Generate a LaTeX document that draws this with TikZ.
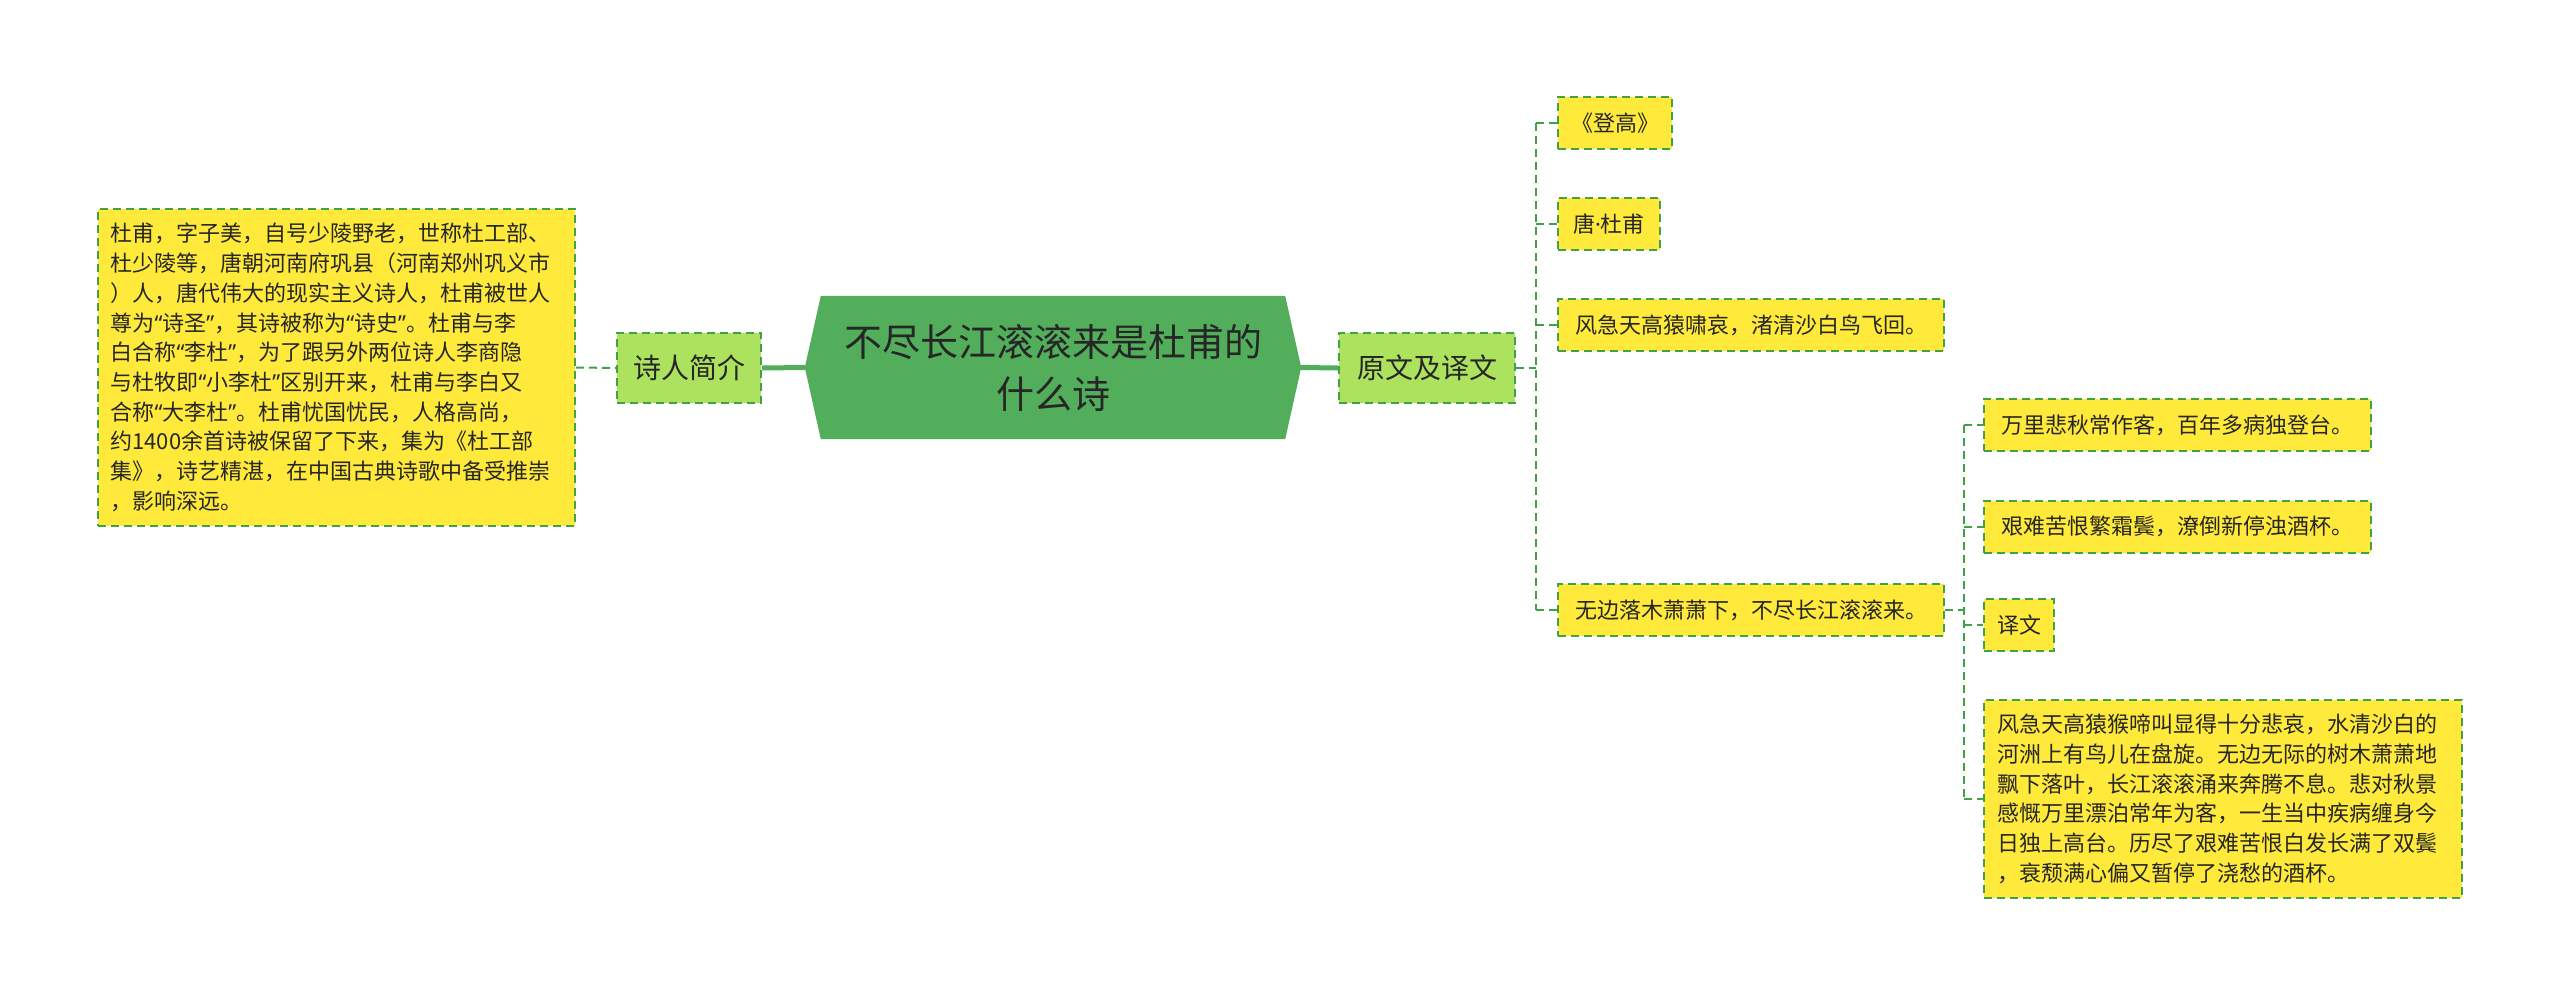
\documentclass[tikz,border=0pt]{standalone}
\usepackage{fontspec}
\setmainfont{Noto Sans CJK SC}
\newfontfamily\qf{Noto Sans}
\newcommand{\myLq}{{\qf “}}
\newcommand{\myRq}{{\qf ”}}
\usetikzlibrary{backgrounds}
\definecolor{yel}{HTML}{FFE93A}
\definecolor{dgreen}{HTML}{42A046}
\definecolor{hexg}{HTML}{53AE5C}
\definecolor{lgreen}{HTML}{ACE25E}
\definecolor{txt}{HTML}{262626}
\begin{document}
\begin{tikzpicture}[x=1pt,y=-1pt,
  box/.style={draw=dgreen, fill=yel, line width=2pt, dash pattern=on 8pt off 5pt, inner sep=0pt, text=txt, align=left, font=\fontsize{22}{29.7}\selectfont, minimum height=52pt},
  mid/.style={draw=dgreen, fill=lgreen, line width=2pt, dash pattern=on 8pt off 5pt, inner sep=0pt, text=txt, font=\fontsize{28}{34}\selectfont, minimum height=70pt},
  conn/.style={draw=dgreen, line width=2pt, dash pattern=on 8pt off 5pt},
  mainconn/.style={draw=hexg, line width=5pt},
  titlestyle/.style={inner sep=0pt, minimum width=496pt, minimum height=143pt, align=center, text=txt, font=\fontsize{38}{52}\selectfont}
]
\useasboundingbox (0,0) rectangle (2560,996);
\node[titlestyle] (c) at (1053,367.5) {不尽长江滚滚来是杜甫的\\什么诗};
\begin{pgfonlayer}{background}
\fill[white] (0,0) rectangle (2560,996);
\fill[hexg] (c.west) -- ([xshift=16pt]c.north west) -- ([xshift=-16pt]c.north east) -- (c.east) -- ([xshift=-16pt]c.south east) -- ([xshift=16pt]c.south west) -- cycle;
\end{pgfonlayer}
\node[box, text width=452pt, minimum width=477pt, minimum height=317pt] (bio) at (336.5,367.5) {杜甫，字子美，自号少陵野老，世称杜工部、\\杜少陵等，唐朝河南府巩县（河南郑州巩义市\\）人，唐代伟大的现实主义诗人，杜甫被世人\\尊为\myLq 诗圣\myRq ，其诗被称为\myLq 诗史\myRq 。杜甫与李\\白合称\myLq 李杜\myRq ，为了跟另外两位诗人李商隐\\与杜牧即\myLq 小李杜\myRq 区别开来，杜甫与李白又\\合称\myLq 大李杜\myRq 。杜甫忧国忧民，人格高尚，\\约1400余首诗被保留了下来，集为《杜工部\\集》，诗艺精湛，在中国古典诗歌中备受推崇\\，影响深远。};
\node[mid, minimum width=144pt] (srjj) at (689,368) {诗人简介};
\node[mid, minimum width=176pt] (ywyw) at (1427,368) {原文及译文};
\node[box, minimum width=114pt] (dg) at (1615,123) {《登高》};
\node[box, minimum width=102pt] (df) at (1609,224) {唐{\qf ·}杜甫};
\node[box, minimum width=386pt] (s1) at (1751,325) {风急天高猿啸哀，渚清沙白鸟飞回。};
\node[box, minimum width=386pt] (s2) at (1751,610) {无边落木萧萧下，不尽长江滚滚来。};
\node[box, minimum width=387pt] (s3) at (2177.5,425) {万里悲秋常作客，百年多病独登台。};
\node[box, minimum width=387pt] (s4) at (2177.5,526.5) {艰难苦恨繁霜鬓，潦倒新停浊酒杯。};
\node[box, minimum width=70pt] (yw) at (2019,625) {译文};
\node[box, text width=452pt, minimum width=478pt, minimum height=198pt] (tr) at (2223,799) {风急天高猿猴啼叫显得十分悲哀，水清沙白的\\河洲上有鸟儿在盘旋。无边无际的树木萧萧地\\飘下落叶，长江滚滚涌来奔腾不息。悲对秋景\\感慨万里漂泊常年为客，一生当中疾病缠身今\\日独上高台。历尽了艰难苦恨白发长满了双鬓\\，衰颓满心偏又暂停了浇愁的酒杯。};
\draw[mainconn] (c.west) -- (srjj.east);
\draw[mainconn] (c.east) -- (ywyw.west);
\draw[conn] (bio.east) -- (srjj.west);
\coordinate (t1) at (1536,368);
\draw[conn] (ywyw.east) -- (t1);
\draw[conn] (t1 |- dg.west) -- (t1 |- s2.west);
\foreach \n in {dg,df,s1,s2} \draw[conn] (t1 |- \n.west) -- (\n.west);
\coordinate (t2) at (1964,610);
\draw[conn] (s2.east) -- (t2);
\draw[conn] (t2 |- s3.west) -- (t2 |- tr.west);
\foreach \n in {s3,s4,yw,tr} \draw[conn] (t2 |- \n.west) -- (\n.west);
\end{tikzpicture}
\end{document}
